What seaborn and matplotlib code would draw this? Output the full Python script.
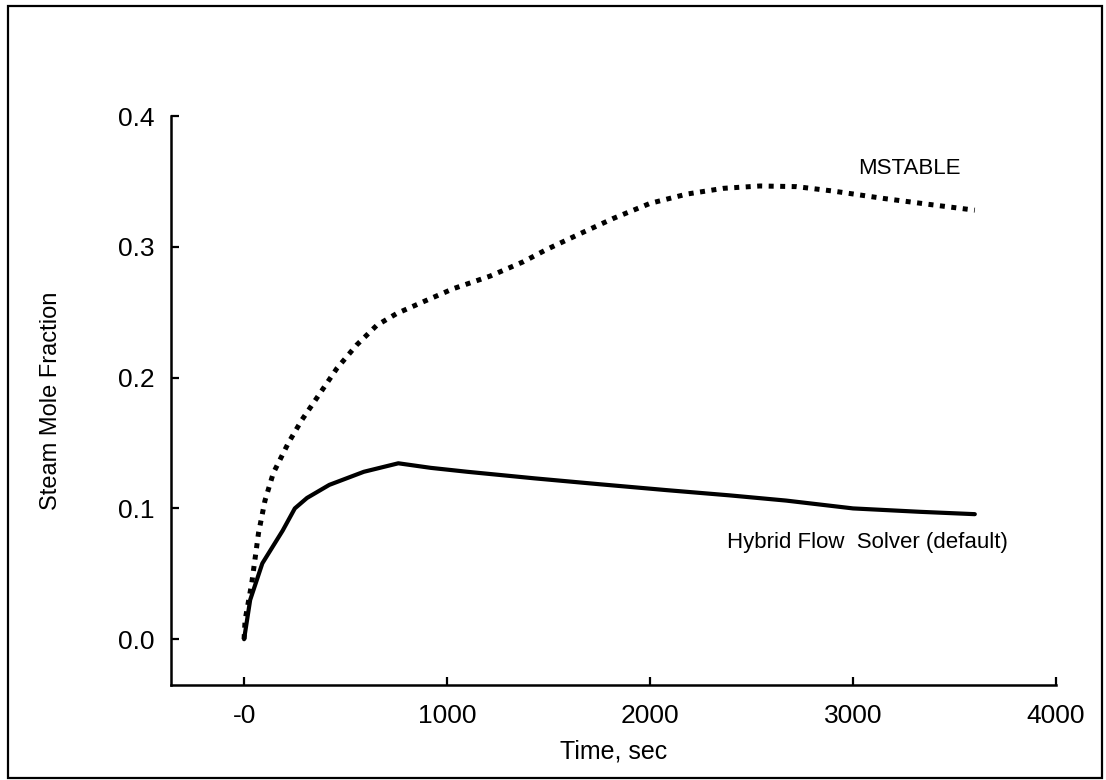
import numpy as np
import pandas as pd
import seaborn as sns
import matplotlib.pyplot as plt
from matplotlib.patches import Rectangle

# values
time_hybrid = [0, 30, 90, 190, 250, 310, 420, 590, 760, 920, 1100, 1430, 1750,
               2080, 2390, 2670, 3000, 3330, 3600]
hybrid = [0.0, 0.030, 0.058, 0.083, 0.100, 0.108, 0.118, 0.128, 0.1345, 0.131,
          0.128, 0.123, 0.1185, 0.114, 0.110, 0.106, 0.100, 0.0974, 0.0956]

time_mstable = [0, 5, 38, 71, 103, 144, 218, 284, 374, 457, 555, 654, 752, 883,
                1031, 1212, 1376, 1491, 1655, 1819, 2000, 2181, 2361, 2542, 2722,
                2903, 3149, 3396, 3600]
mstable = [0.0, 0.0145, 0.043, 0.081, 0.106, 0.127, 0.150, 0.1675, 0.188, 0.207,
           0.225, 0.240, 0.249, 0.258, 0.268, 0.2776, 0.2886, 0.298, 0.310, 0.3217,
           0.3332, 0.3403, 0.3447, 0.3465, 0.346, 0.3426, 0.337, 0.332, 0.328]

xticks = [0, 1000, 2000, 3000, 4000]
xtick_labels = ["-0", "1000", "2000", "3000", "4000"]
yticks = [0.0, 0.1, 0.2, 0.3, 0.4]

df_h = pd.DataFrame({"time": time_hybrid, "frac": hybrid})
df_m = pd.DataFrame({"time": time_mstable, "frac": mstable})

sns.set_theme(style="ticks")
plt.rcParams['font.family'] = ['Liberation Sans', 'DejaVu Sans']
plt.rcParams['text.color'] = 'black'
plt.rcParams['axes.labelcolor'] = 'black'
plt.rcParams['xtick.color'] = 'black'
plt.rcParams['ytick.color'] = 'black'

fig = plt.figure(figsize=(11.06, 7.80), dpi=100)
ax = fig.add_axes([171 / 1106, 1 - 685 / 780, (1056 - 171) / 1106, (685 - 116) / 780])

sns.lineplot(data=df_h, x="time", y="frac", ax=ax, color="black", lw=3.0,
             solid_capstyle="round", solid_joinstyle="round")
sns.lineplot(data=df_m, x="time", y="frac", ax=ax, color="black", lw=3.6,
             linestyle=(0, (1.0, 1.3)), dash_capstyle="butt")

ax.set_xlim(-360, 4000)
ax.set_ylim(-0.035, 0.4)
ax.set_xticks(xticks)
ax.set_xticklabels(xtick_labels)
ax.set_yticks(yticks)
ax.set_yticklabels([f"{v:.1f}" for v in yticks])

for s in ["top", "right"]:
    ax.spines[s].set_visible(False)
for s in ["left", "bottom"]:
    ax.spines[s].set_linewidth(1.8)
    ax.spines[s].set_color("black")

ax.tick_params(axis="both", direction="in", length=6, width=1.6, colors="black",
               labelsize=19)
ax.tick_params(axis="y", pad=12)
ax.tick_params(axis="x", pad=14)

ax.set_xlabel("Time, sec", fontsize=18, labelpad=8, color="black")
ax.set_ylabel("Steam Mole Fraction", fontsize=17, labelpad=40, color="black")

ax.text(3025, 0.3595, "MSTABLE", fontsize=16, va="center", ha="left", color="black")
ax.text(2379, 0.074, "Hybrid Flow  Solver (default)", fontsize=16, va="center",
        ha="left", color="black")

# frame around the whole picture
fig.patches.append(Rectangle((8 / 1106, 2 / 780), 1094 / 1106, 772 / 780,
                             transform=fig.transFigure, fill=False,
                             edgecolor="black", lw=1.6))

fig.savefig("out.png", dpi=100)
plt.close(fig)
